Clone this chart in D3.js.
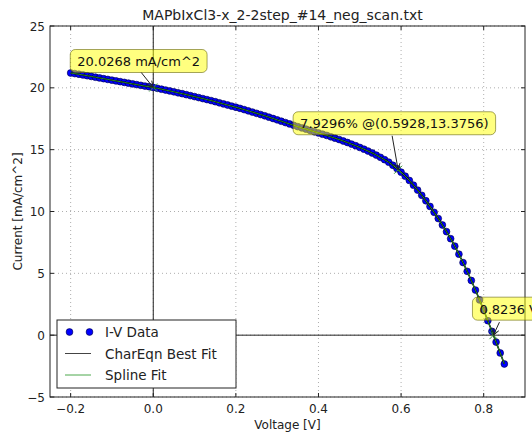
<!DOCTYPE html>
<html><head><meta charset="utf-8">
<script src="https://cdn.jsdelivr.net/npm/d3@7"></script>
<style>
html,body{margin:0;padding:0;background:#fff;}
svg{display:block;font-family:"DejaVu Sans",sans-serif;}
</style></head>
<body><svg id="c" width="532" height="437"></svg>
<script>
const title = "MAPbIxCl3-x_2-2step_#14_neg_scan.txt";
const xLabel = "Voltage [V]";
const yLabel = "Current [mA/cm^2]";
const xTicks = [-0.2, 0.0, 0.2, 0.4, 0.6, 0.8];
const yTicks = [-5, 0, 5, 10, 15, 20, 25];
const legendLabels = ["I-V Data", "CharEqn Best Fit", "Spline Fit"];

const voltage = [-0.20,-0.19,-0.18,-0.17,-0.16,-0.15,-0.14,-0.13,-0.12,-0.11,
 -0.10,-0.09,-0.08,-0.07,-0.06,-0.05,-0.04,-0.03,-0.02,-0.01,
 0.00,0.01,0.02,0.03,0.04,0.05,0.06,0.07,0.08,0.09,
 0.10,0.11,0.12,0.13,0.14,0.15,0.16,0.17,0.18,0.19,
 0.20,0.21,0.22,0.23,0.24,0.25,0.26,0.27,0.28,0.29,
 0.30,0.31,0.32,0.33,0.34,0.35,0.36,0.37,0.38,0.39,
 0.40,0.41,0.42,0.43,0.44,0.45,0.46,0.47,0.48,0.49,
 0.50,0.51,0.52,0.53,0.54,0.55,0.56,0.57,0.58,0.59,
 0.60,0.61,0.62,0.63,0.64,0.65,0.66,0.67,0.68,0.69,
 0.70,0.71,0.72,0.73,0.74,0.75,0.76,0.77,0.78,0.79,
 0.80,0.81,0.82,0.83,0.84,0.85];
const current = [21.20,21.15,21.10,21.04,20.98,20.92,20.86,20.80,20.74,20.68,
 20.62,20.56,20.50,20.44,20.38,20.32,20.26,20.20,20.14,20.09,
 20.03,19.96,19.89,19.82,19.75,19.68,19.60,19.53,19.45,19.37,
 19.29,19.21,19.13,19.05,18.97,18.88,18.79,18.70,18.61,18.52,
 18.43,18.34,18.24,18.14,18.04,17.94,17.84,17.74,17.63,17.52,
 17.41,17.30,17.19,17.08,16.97,16.86,16.76,16.66,16.55,16.45,
 16.35,16.25,16.15,16.04,15.93,15.82,15.70,15.58,15.45,15.32,
 15.18,15.04,14.89,14.73,14.56,14.38,14.19,13.99,13.74,13.47,
 13.18,12.86,12.51,12.13,11.73,11.31,10.87,10.41,9.93,9.43,
 8.91,8.37,7.80,7.20,6.55,5.87,5.16,4.42,3.65,2.85,
 2.02,1.17,0.31,-0.56,-1.44,-2.33];

const annotTexts = ["20.0268 mA/cm^2", "7.9296% @(0.5928,13.3756)", "0.8236 V"];
const annotX = [0, 0.5928, 0.8236];
const annotY = [20.0268, 13.3756, 0];

const svg = d3.select("#c");
const L = 50, R = 525, T = 26, B = 397;
const x = d3.scaleLinear().domain([-0.25, 0.9]).range([L, R]);
const y = d3.scaleLinear().domain([-5, 25]).range([B, T]);
const txt = "#222";

// grid
const g = svg.append("g");
g.selectAll(".gx").data(xTicks).join("line")
  .attr("x1", d => x(d)).attr("x2", d => x(d)).attr("y1", T).attr("y2", B)
  .attr("stroke", "#999").attr("stroke-width", 0.8).attr("stroke-dasharray", "1,3");
g.selectAll(".gy").data(yTicks).join("line")
  .attr("y1", d => y(d)).attr("y2", d => y(d)).attr("x1", L).attr("x2", R)
  .attr("stroke", "#999").attr("stroke-width", 0.8).attr("stroke-dasharray", "1,3");

// zero axes
svg.append("line").attr("x1", x(0)).attr("x2", x(0)).attr("y1", T).attr("y2", B)
  .attr("stroke", "#222").attr("stroke-width", 1);
svg.append("line").attr("x1", L).attr("x2", R).attr("y1", y(0)).attr("y2", y(0))
  .attr("stroke", "#222").attr("stroke-width", 1);

// data
const pts = voltage.map((v, i) => [v, current[i]]);
svg.append("g").selectAll("circle").data(pts).join("circle")
  .attr("cx", d => x(d[0])).attr("cy", d => y(d[1])).attr("r", 3.4)
  .attr("fill", "#0000ff").attr("stroke", "#000040").attr("stroke-width", 0.6);

const line = d3.line().x(d => x(d[0])).y(d => y(d[1])).curve(d3.curveMonotoneX);
svg.append("path").datum(pts).attr("d", line).attr("fill", "none")
  .attr("stroke", "#000").attr("stroke-width", 1.6);
svg.append("path").datum(pts).attr("d", line).attr("fill", "none")
  .attr("stroke", "#2e9a2e").attr("stroke-width", 0.9);

// green x markers at annotated points
annotX.forEach((v, i) => {
  const cx = x(v), cy = y(annotY[i]);
  svg.append("path").attr("d", `M${cx-4},${cy-4}L${cx+4},${cy+4}M${cx-4},${cy+4}L${cx+4},${cy-4}`)
    .attr("stroke", "#3a9a3a").attr("stroke-width", 1);
});

// frame
svg.append("rect").attr("x", L).attr("y", T).attr("width", R - L).attr("height", B - T)
  .attr("fill", "none").attr("stroke", "#222").attr("stroke-width", 1);

// ticks (inside, all sides)
xTicks.forEach(t => {
  svg.append("line").attr("x1", x(t)).attr("x2", x(t)).attr("y1", B).attr("y2", B - 4).attr("stroke", "#222");
  svg.append("line").attr("x1", x(t)).attr("x2", x(t)).attr("y1", T).attr("y2", T + 4).attr("stroke", "#222");
});
yTicks.forEach(t => {
  svg.append("line").attr("y1", y(t)).attr("y2", y(t)).attr("x1", L).attr("x2", L + 4).attr("stroke", "#222");
  svg.append("line").attr("y1", y(t)).attr("y2", y(t)).attr("x1", R).attr("x2", R - 4).attr("stroke", "#222");
});
const fx = d3.format(".1f"), fy = d3.format("d");
svg.append("g").selectAll("text").data(xTicks).join("text")
  .attr("x", d => x(d)).attr("y", B + 16).attr("text-anchor", "middle")
  .attr("font-size", 12).attr("fill", txt).text(d => fx(d));
svg.append("g").selectAll("text").data(yTicks).join("text")
  .attr("x", L - 5).attr("y", d => y(d) + 4.5).attr("text-anchor", "end")
  .attr("font-size", 12).attr("fill", txt).text(d => fy(d));

// labels
svg.append("text").attr("x", (L + R) / 2).attr("y", 429).attr("text-anchor", "middle")
  .attr("font-size", 12).attr("fill", txt).text(xLabel);
svg.append("text").attr("transform", `translate(22,${(T + B) / 2}) rotate(-90)`)
  .attr("text-anchor", "middle").attr("font-size", 12).attr("fill", txt).text(yLabel);
svg.append("text").attr("x", (L + R) / 2 - 5).attr("y", 20).attr("text-anchor", "middle")
  .attr("font-size", 14).attr("fill", txt).text(title);

// annotations
const boxOff = [[-83, -38], [-105, -58], [-21, -38]];
const arrowStart = [[-12, -15], [-6, -34], [6, -13]];
annotTexts.forEach((s, i) => {
  const px = x(annotX[i]), py = y(annotY[i]);
  const t = svg.append("text").attr("x", px + boxOff[i][0] + 7).attr("y", py + boxOff[i][1] + 16.5)
    .attr("font-size", 13).attr("fill", "#111").text(s);
  const w = t.node().getComputedTextLength();
  svg.insert("rect", () => t.node())
    .attr("x", px + boxOff[i][0]).attr("y", py + boxOff[i][1])
    .attr("width", w + 14).attr("height", 23).attr("rx", 5)
    .attr("fill", "rgba(255,255,0,0.5)").attr("stroke", "rgba(90,90,0,0.55)").attr("stroke-width", 1);
  const sx = px + arrowStart[i][0], sy = py + arrowStart[i][1];
  svg.append("line").attr("x1", sx).attr("y1", sy).attr("x2", px).attr("y2", py)
    .attr("stroke", "#222").attr("stroke-width", 1);
  const ang = Math.atan2(py - sy, px - sx);
  const hl = 7, hw = 0.45;
  svg.append("path")
    .attr("d", `M${px - hl*Math.cos(ang - hw)},${py - hl*Math.sin(ang - hw)}L${px},${py}L${px - hl*Math.cos(ang + hw)},${py - hl*Math.sin(ang + hw)}`)
    .attr("fill", "none").attr("stroke", "#222").attr("stroke-width", 1);
});

// legend
const lg = svg.append("g");
lg.append("rect").attr("x", 57).attr("y", 320).attr("width", 179).attr("height", 68)
  .attr("fill", "#fff").attr("stroke", "#222").attr("stroke-width", 1);
const rowY = [332, 353.5, 375];
lg.append("circle").attr("cx", 69.5).attr("cy", rowY[0]).attr("r", 3.4).attr("fill", "#0000ff").attr("stroke", "#000040").attr("stroke-width", 0.6);
lg.append("circle").attr("cx", 89.5).attr("cy", rowY[0]).attr("r", 3.4).attr("fill", "#0000ff").attr("stroke", "#000040").attr("stroke-width", 0.6);
lg.append("line").attr("x1", 65).attr("x2", 91).attr("y1", rowY[1]).attr("y2", rowY[1]).attr("stroke", "#444").attr("stroke-width", 1);
lg.append("line").attr("x1", 65).attr("x2", 91).attr("y1", rowY[2]).attr("y2", rowY[2]).attr("stroke", "#4ca84c").attr("stroke-width", 1);
legendLabels.forEach((s, i) => {
  lg.append("text").attr("x", 105).attr("y", rowY[i] + 5).attr("font-size", 13.5).attr("fill", txt).text(s);
});
</script></body></html>
